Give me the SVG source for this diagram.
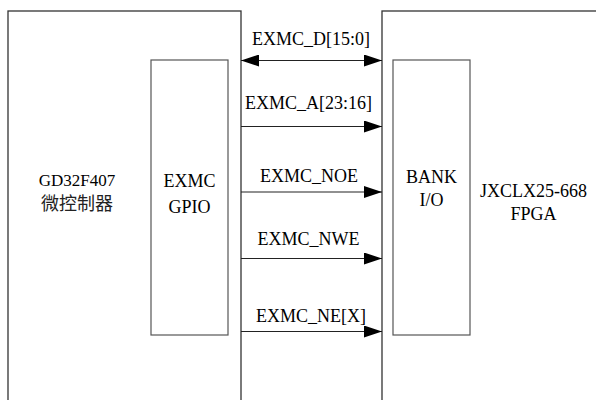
<svg xmlns="http://www.w3.org/2000/svg" width="596" height="400" viewBox="0 0 596 400">
<style>
.box{fill:#fff;stroke:#333;stroke-width:1.3}
.inner{fill:#fff;stroke:#555;stroke-width:1.2}
.t{font-family:"Liberation Serif","Noto Sans CJK SC",serif;font-size:18px;fill:#000;text-anchor:middle}
.cn{font-family:"Noto Sans CJK SC",sans-serif;font-size:18px;fill:#222;text-anchor:middle}
.w{stroke:#222;stroke-width:1.2;fill:none}
</style>
<defs>
<marker id="ah" markerWidth="18" markerHeight="12" refX="18" refY="6" orient="auto" markerUnits="userSpaceOnUse">
<path d="M0,0 L18,6 L0,12 Z" fill="#000"/>
</marker>
<marker id="as" markerWidth="18" markerHeight="12" refX="0" refY="6" orient="auto" markerUnits="userSpaceOnUse">
<path d="M18,0 L0,6 L18,12 Z" fill="#000"/>
</marker>
</defs>
<g id="mcu">
<rect class="box" x="8" y="11" width="233" height="400"/>
<text class="t" x="77" y="186" style="font-size:17px">GD32F407</text>
<text class="cn" x="77" y="210">微控制器</text>
</g>
<g id="gpio">
<rect class="inner" x="151" y="60" width="77" height="275"/>
<text class="t" x="189.5" y="187">EXMC</text>
<text class="t" x="189.5" y="213">GPIO</text>
</g>
<g id="fpga">
<rect class="box" x="382" y="11" width="230" height="400"/>
<text class="t" x="533.5" y="197">JXCLX25-668</text>
<text class="t" x="533.5" y="220">FPGA</text>
</g>
<g id="bank">
<rect class="inner" x="393" y="60" width="77" height="275"/>
<text class="t" x="431.5" y="183">BANK</text>
<text class="t" x="431.5" y="206">I/O</text>
</g>
<g id="connectors">
<line class="w" x1="241" y1="60.5" x2="382" y2="60.5" marker-start="url(#as)" marker-end="url(#ah)"/>
<text class="t" x="311" y="45">EXMC_D[15:0]</text>
<line class="w" x1="241" y1="126.5" x2="382" y2="126.5" marker-end="url(#ah)"/>
<text class="t" x="308.5" y="109">EXMC_A[23:16]</text>
<line class="w" x1="241" y1="192" x2="382" y2="192" marker-end="url(#ah)"/>
<text class="t" x="309" y="182">EXMC_NOE</text>
<line class="w" x1="241" y1="258.5" x2="382" y2="258.5" marker-end="url(#ah)"/>
<text class="t" x="308.5" y="245">EXMC_NWE</text>
<line class="w" x1="241" y1="331.5" x2="382" y2="331.5" marker-end="url(#ah)"/>
<text class="t" x="311" y="322">EXMC_NE[X]</text>
</g>
</svg>
